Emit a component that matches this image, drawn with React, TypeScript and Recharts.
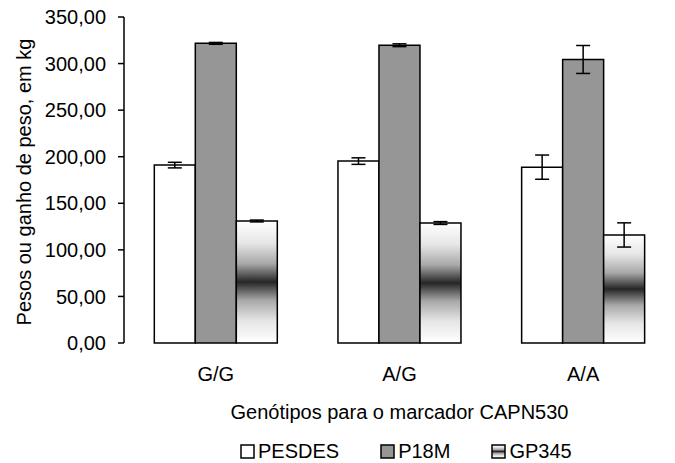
import React from 'react';
import { BarChart, Bar, XAxis, YAxis, ErrorBar, Legend, Label } from 'recharts';

const genotipos = ['G/G', 'A/G', 'A/A'];
const pesdes = [191, 195.3, 188.8];
const pesdesErr = [3, 3.5, 13];
const p18m = [321.7, 319.7, 304.4];
const p18mErr = [1, 1.5, 15];
const gp345 = [131, 128.8, 116];
const gp345Err = [1, 1.5, 13];
const yTicks = [0, 50, 100, 150, 200, 250, 300, 350];
const edgeTicks = [0, 1, 2, 3];

const seriesInfo = [
  { key: 'pesdes', name: 'PESDES', fill: '#ffffff' },
  { key: 'p18m', name: 'P18M', fill: '#969696' },
  { key: 'gp345', name: 'GP345', fill: 'url(#gpGrad)' },
];

const data = genotipos.map((g, i) => ({
  name: g,
  pesdes: pesdes[i],
  pesdesErr: pesdesErr[i],
  p18m: p18m[i],
  p18mErr: p18mErr[i],
  gp345: gp345[i],
  gp345Err: gp345Err[i],
}));

const FONT = '"Liberation Sans", Arial, sans-serif';
const FS = 20;
const fmt = (v: number) => v.toFixed(2).replace('.', ',');

// legend sits right of centre in the original, so it is padded in from the left
const LegendBox = () => (
  <div style={{ display: 'flex', justifyContent: 'flex-start', gap: 41, fontFamily: FONT, fontSize: FS, color: '#000', lineHeight: '22px', paddingLeft: 240 }}>
    {seriesInfo.map(s => (
      <div key={s.key} style={{ display: 'flex', alignItems: 'center' }}>
        <svg width={15} height={15} style={{ marginRight: 3 }}>
          <rect x={1} y={1} width={13} height={13} fill={s.fill} stroke="#000" strokeWidth={1.5} />
        </svg>
        <span>{s.name}</span>
      </div>
    ))}
  </div>
);

export default function App() {
  return (
    <div style={{ position: 'absolute', left: 0, top: 0, background: '#fff' }}>
      <BarChart
        width={675}
        height={463}
        data={data}
        margin={{ top: 17, right: 0, left: 0, bottom: 20 }}
        barCategoryGap="16.5%"
        barGap={0}
        style={{ fontFamily: FONT }}
      >
        <defs>
          <linearGradient id="gpGrad" x1="0" y1="0" x2="0" y2="1">
            <stop offset="0" stopColor="#ffffff" />
            <stop offset="0.18" stopColor="#e6e6e6" />
            <stop offset="0.35" stopColor="#a8a8a8" />
            <stop offset="0.5" stopColor="#262626" />
            <stop offset="0.65" stopColor="#a8a8a8" />
            <stop offset="0.82" stopColor="#e6e6e6" />
            <stop offset="1" stopColor="#ffffff" />
          </linearGradient>
        </defs>
        <XAxis
          xAxisId="edge"
          type="number"
          domain={[0, 3]}
          ticks={edgeTicks}
          allowDataOverflow
          height={0}
          tick={false}
          tickSize={6}
          axisLine={{ stroke: '#000', strokeWidth: 1.5 }}
          tickLine={{ stroke: '#000', strokeWidth: 1.5 }}
        />
        <XAxis
          xAxisId="cat"
          dataKey="name"
          height={100}
          axisLine={false}
          tickLine={false}
          tickSize={0}
          tickMargin={24}
          fontSize={FS}
          tick={{ fill: '#000', fontSize: FS }}
        >
          <Label
            content={({ viewBox }: any) => (
              <text
                x={viewBox.x + viewBox.width / 2}
                y={viewBox.y + 69}
                textAnchor="middle"
                dominantBaseline="central"
                fontSize={FS}
                fill="#000"
              >
                Genótipos para o marcador CAPN530
              </text>
            )}
          />
        </XAxis>
        <YAxis
          width={124}
          domain={[0, 350]}
          ticks={yTicks}
          tickFormatter={fmt}
          tickSize={6}
          tickMargin={12}
          fontSize={FS}
          tick={{ fill: '#000', fontSize: FS }}
          axisLine={{ stroke: '#000', strokeWidth: 1.5 }}
          tickLine={{ stroke: '#000', strokeWidth: 1.5 }}
        >
          <Label
            content={({ viewBox }: any) => {
              const cx = viewBox.x + 31;
              const cy = viewBox.y + viewBox.height / 2 + 2;
              return (
                <text
                  x={cx}
                  y={cy}
                  transform={`rotate(-90 ${cx} ${cy})`}
                  textAnchor="middle"
                  fontSize={FS}
                  fill="#000"
                >
                  Pesos ou ganho de peso, em kg
                </text>
              );
            }}
          />
        </YAxis>
        <Legend
          verticalAlign="middle"
          align="center"
          wrapperStyle={{ top: 440, left: 0, width: 675 }}
          content={() => <LegendBox />}
        />
        {seriesInfo.map(s => (
          <Bar
            key={s.key}
            xAxisId="cat"
            dataKey={s.key}
            name={s.name}
            fill={s.fill}
            stroke="#000"
            strokeWidth={1.5}
            isAnimationActive={false}
          >
            <ErrorBar dataKey={`${s.key}Err`} width={7} stroke="#000" strokeWidth={1.5} />
          </Bar>
        ))}
      </BarChart>
    </div>
  );
}
